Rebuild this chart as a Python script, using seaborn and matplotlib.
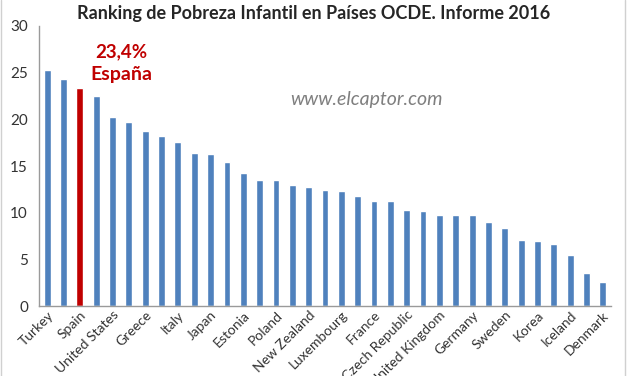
import matplotlib
matplotlib.use("Agg")
import matplotlib.pyplot as plt
import seaborn as sns
import pandas as pd

# Child poverty rate (%) by OECD country
countries = ["Turkey", "Israel", "Spain", "Chile", "United States", "Portugal",
             "Greece", "Mexico", "Italy", "Canada", "Japan", "Latvia", "Estonia",
             "Slovak Republic", "Poland", "Belgium", "New Zealand", "Australia",
             "Luxembourg", "Hungary", "France", "Ireland", "Czech Republic",
             "Switzerland", "United Kingdom", "Netherlands", "Germany", "Slovenia",
             "Sweden", "Austria", "Korea", "Norway", "Iceland", "Finland", "Denmark"]
poverty = [25.3, 24.3, 23.4, 22.5, 20.2, 19.7, 18.7, 18.2, 17.6, 16.4, 16.3, 15.4,
           14.3, 13.5, 13.5, 13.0, 12.8, 12.4, 12.3, 11.8, 11.3, 11.2, 10.3, 10.2,
           9.8, 9.75, 9.75, 9.0, 8.4, 7.1, 7.0, 6.7, 5.5, 3.5, 2.6]
highlight = "Spain"

df = pd.DataFrame({"country": countries, "rate": poverty})
palette = {c: ("#C00000" if c == highlight else "#4F81BD") for c in countries}

sns.set_style("white")
plt.rcParams["font.family"] = ["Lato", "DejaVu Sans"]

fig = plt.figure(figsize=(6.27, 3.76), dpi=100)
ax = fig.add_axes([0.0622, 0.186, 0.9123, 0.745])

sns.barplot(data=df, x="country", y="rate", hue="country", palette=palette,
            width=0.42, legend=False, saturation=1, ax=ax)

ax.set_xlim(-0.5, len(countries) - 0.5)
ax.set_ylim(0, 30)
ax.set_yticks(range(0, 31, 5))
ax.tick_params(axis="y", length=0, labelsize=11, labelcolor="#333333", pad=8)
ax.tick_params(axis="x", length=0, labelsize=10, labelcolor="#333333", pad=2)

ax.set_xticks(range(0, len(countries), 2))
ax.set_xticklabels(countries[::2], rotation=45, ha="right", rotation_mode="anchor")
ax.set_xlabel("")
ax.set_ylabel("")

for side in ["top", "right"]:
    ax.spines[side].set_visible(False)
for side in ["left", "bottom"]:
    ax.spines[side].set_color("#9A9A9A")
    ax.spines[side].set_linewidth(1)

fig.text(0.5, 0.965, "Ranking de Pobreza Infantil en Países OCDE. Informe 2016",
         ha="center", va="center", fontsize=13, fontweight="bold")

# Spain label
ax.text(4.55, 27.2, "23,4%", ha="center", va="center", color="#C00000",
        fontsize=13.5, fontweight="bold")
ax.text(4.55, 24.75, "España", ha="center", va="center", color="#C00000",
        fontsize=14, fontweight="bold")

ax.text(0.573, 0.736, "www.elcaptor.com", transform=ax.transAxes, ha="center",
        va="center", fontsize=14, style="italic", color="#7F7F7F")

# Thin chart frame lines at the edges
fig.add_artist(plt.Line2D([0.002, 0.002], [0, 1], color="#D0D0D0", lw=1))
fig.add_artist(plt.Line2D([0.997, 0.997], [0, 1], color="#D0D0D0", lw=1))

fig.savefig("out.png", dpi=100)
